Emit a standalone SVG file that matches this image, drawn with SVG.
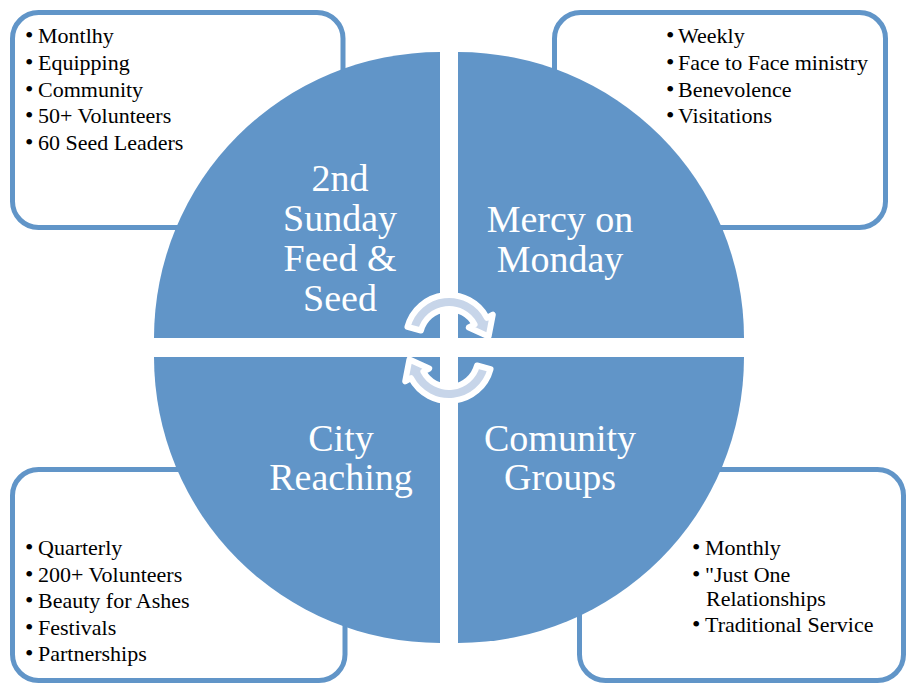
<svg xmlns="http://www.w3.org/2000/svg" width="906" height="683" viewBox="0 0 906 683">
<style>
.box{fill:#fff;stroke:#6195C8;stroke-width:5}
.q{fill:#6195C8}
.t{font-family:"Liberation Serif","DejaVu Serif",serif;font-size:38px;fill:#fff;text-anchor:middle}
.l{font-family:"Liberation Serif","DejaVu Serif",serif;font-size:22px;fill:#000}
.b{font-size:24px}
.arr{fill:#C7D5E9;stroke:#fff;stroke-width:6;stroke-linejoin:round}
</style>
<rect width="906" height="683" fill="#fff"/>
<g id="box-tl"><rect class="box" x="12.5" y="12.5" width="330.5" height="215" rx="26"/>
<text class="l" y="43"><tspan class="b" x="25">•</tspan><tspan x="38">Montlhy</tspan></text>
<text class="l" y="70"><tspan class="b" x="25">•</tspan><tspan x="38">Equipping</tspan></text>
<text class="l" y="97"><tspan class="b" x="25">•</tspan><tspan x="38">Community</tspan></text>
<text class="l" y="123"><tspan class="b" x="25">•</tspan><tspan x="38">50+ Volunteers</tspan></text>
<text class="l" y="150"><tspan class="b" x="25">•</tspan><tspan x="38">60 Seed Leaders</tspan></text>
</g>
<g id="box-tr"><rect class="box" x="554.5" y="12.5" width="331" height="215" rx="26"/>
<text class="l" y="43"><tspan class="b" x="666">•</tspan><tspan x="678">Weekly</tspan></text>
<text class="l" y="70"><tspan class="b" x="666">•</tspan><tspan x="678">Face to Face ministry</tspan></text>
<text class="l" y="97"><tspan class="b" x="666">•</tspan><tspan x="678">Benevolence</tspan></text>
<text class="l" y="123"><tspan class="b" x="666">•</tspan><tspan x="678">Visitations</tspan></text>
</g>
<g id="box-bl"><rect class="box" x="12.5" y="469.5" width="332.5" height="211" rx="26"/>
<text class="l" y="555"><tspan class="b" x="25">•</tspan><tspan x="38">Quarterly</tspan></text>
<text class="l" y="582"><tspan class="b" x="25">•</tspan><tspan x="38">200+ Volunteers</tspan></text>
<text class="l" y="608"><tspan class="b" x="25">•</tspan><tspan x="38">Beauty for Ashes</tspan></text>
<text class="l" y="635"><tspan class="b" x="25">•</tspan><tspan x="38">Festivals</tspan></text>
<text class="l" y="661"><tspan class="b" x="25">•</tspan><tspan x="38">Partnerships</tspan></text>
</g>
<g id="box-br"><rect class="box" x="579.5" y="469.5" width="324" height="211" rx="26"/>
<text class="l" y="555"><tspan class="b" x="692">•</tspan><tspan x="705">Monthly</tspan></text>
<text class="l" y="582"><tspan class="b" x="692">•</tspan><tspan x="705">"Just One</tspan></text>
<text class="l" y="606"><tspan x="706">Relationships</tspan></text>
<text class="l" y="632"><tspan class="b" x="692">•</tspan><tspan x="705">Traditional Service</tspan></text>
</g>
<g id="q-tl"><path class="q" d="M440 338 L154 338 A286 286 0 0 1 440 52 Z"/>
<text class="t" x="340" y="191">2nd</text><text class="t" x="340" y="231">Sunday</text><text class="t" x="340" y="271">Feed &amp;</text><text class="t" x="340" y="311">Seed</text></g>
<g id="q-tr"><path class="q" d="M458 338 L458 52 A286 286 0 0 1 744 338 Z"/>
<text class="t" x="560" y="232">Mercy on</text><text class="t" x="560" y="272">Monday</text></g>
<g id="q-bl"><path class="q" d="M440 357 L440 643 A286 286 0 0 1 154 357 Z"/>
<text class="t" x="341" y="451">City</text><text class="t" x="341" y="490">Reaching</text></g>
<g id="q-br"><path class="q" d="M458 357 L744 357 A286 286 0 0 1 458 643 Z"/>
<text class="t" x="560" y="451">Comunity</text><text class="t" x="560" y="490">Groups</text></g>
<g id="connectors">
<path id="arrow-top" class="arr" d="M407.47 326.87 A43 43 0 0 1 486.97 317.81 L492.8 314.7 L488.6 336.5 L468.8 327.5 L474.6 324.38 A29 29 0 0 0 420.99 330.49 Z"/>
<path id="arrow-bottom" class="arr" transform="rotate(180 449 348)" d="M407.47 326.87 A43 43 0 0 1 486.97 317.81 L492.8 314.7 L488.6 336.5 L468.8 327.5 L474.6 324.38 A29 29 0 0 0 420.99 330.49 Z"/>
</g>
</svg>
